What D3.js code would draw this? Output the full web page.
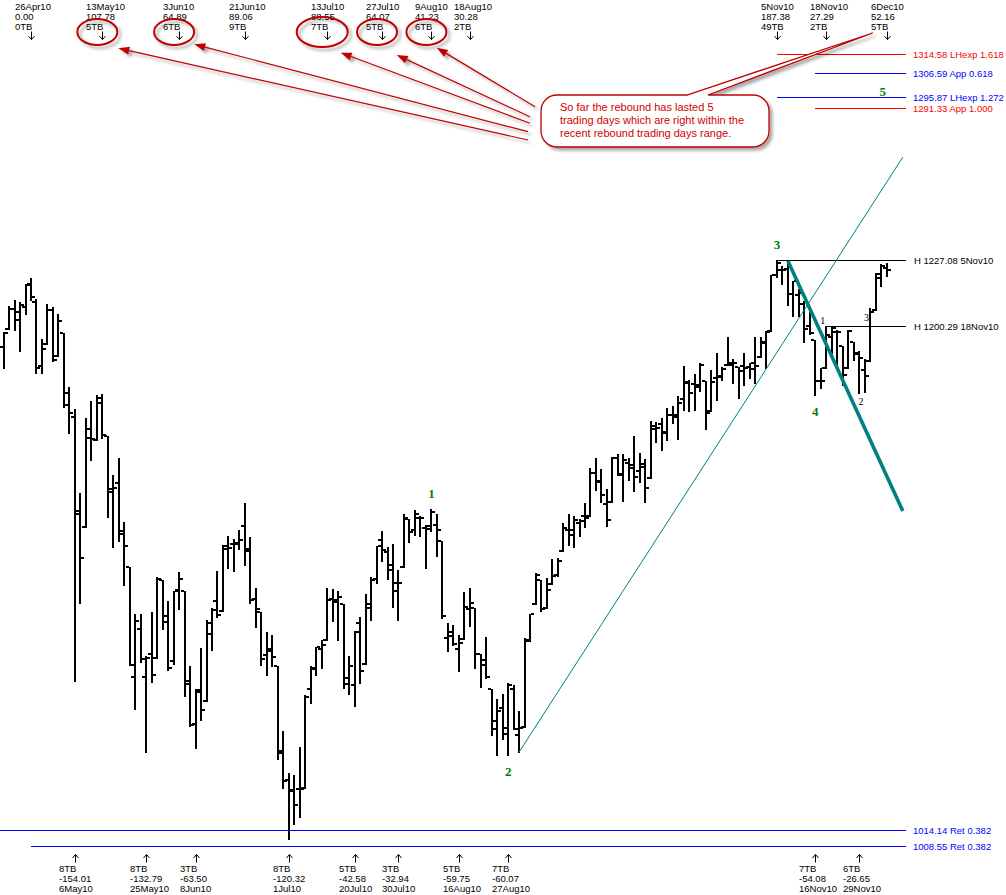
<!DOCTYPE html>
<html><head><meta charset="utf-8">
<script src="https://cdn.jsdelivr.net/npm/d3@7"></script>
<style>html,body{margin:0;padding:0;background:#fff;overflow:hidden}svg{display:block}</style>
</head><body>
<script>
// ---------------- DATA ----------------
const dates = ["19Apr10","20Apr10","21Apr10","22Apr10","23Apr10","26Apr10","27Apr10","28Apr10","29Apr10","30Apr10",
"3May10","4May10","5May10","6May10","7May10","10May10","11May10","12May10","13May10","14May10","17May10","18May10","19May10","20May10","21May10","24May10","25May10","26May10","27May10","28May10",
"1Jun10","2Jun10","3Jun10","4Jun10","7Jun10","8Jun10","9Jun10","10Jun10","11Jun10","14Jun10","15Jun10","16Jun10","17Jun10","18Jun10","21Jun10","22Jun10","23Jun10","24Jun10","25Jun10","28Jun10","29Jun10","30Jun10",
"1Jul10","2Jul10","6Jul10","7Jul10","8Jul10","9Jul10","12Jul10","13Jul10","14Jul10","15Jul10","16Jul10","19Jul10","20Jul10","21Jul10","22Jul10","23Jul10","26Jul10","27Jul10","28Jul10","29Jul10","30Jul10",
"2Aug10","3Aug10","4Aug10","5Aug10","6Aug10","9Aug10","10Aug10","11Aug10","12Aug10","13Aug10","16Aug10","17Aug10","18Aug10","19Aug10","20Aug10","23Aug10","24Aug10","25Aug10","26Aug10","27Aug10","30Aug10","31Aug10",
"1Sep10","2Sep10","3Sep10","7Sep10","8Sep10","9Sep10","10Sep10","13Sep10","14Sep10","15Sep10","16Sep10","17Sep10","20Sep10","21Sep10","22Sep10","23Sep10","24Sep10","27Sep10","28Sep10","29Sep10","30Sep10",
"1Oct10","4Oct10","5Oct10","6Oct10","7Oct10","8Oct10","11Oct10","12Oct10","13Oct10","14Oct10","15Oct10","18Oct10","19Oct10","20Oct10","21Oct10","22Oct10","25Oct10","26Oct10","27Oct10","28Oct10","29Oct10",
"1Nov10","2Nov10","3Nov10","4Nov10","5Nov10","8Nov10","9Nov10","10Nov10","11Nov10","12Nov10","15Nov10","16Nov10","17Nov10","18Nov10","19Nov10","22Nov10","23Nov10","24Nov10","26Nov10","29Nov10","30Nov10",
"1Dec10","2Dec10","3Dec10","6Dec10"];

const open = [1192.06,1199.04,1207.16,1202.70,1207.87,1217.07,1209.92,1184.59,1193.30,1206.77,
1188.58,1197.50,1169.24,1164.38,1127.04,1122.27,1156.39,1155.43,1170.04,1157.19,1136.52,1138.78,1119.57,1107.34,1067.26,1084.78,1067.42,1075.51,1074.27,1102.59,
1087.30,1073.01,1098.82,1098.43,1065.84,1050.81,1062.75,1058.77,1082.65,1095.00,1091.21,1114.02,1115.98,1116.16,1122.79,1113.90,1095.57,1090.93,1075.10,1077.50,1071.10,1040.56,
1031.10,1027.65,1028.09,1028.54,1062.92,1070.50,1077.23,1080.65,1095.61,1094.46,1093.85,1066.85,1064.53,1086.67,1072.14,1092.17,1102.89,1117.36,1112.84,1108.07,1098.44,
1107.53,1125.34,1121.06,1125.78,1122.07,1122.80,1122.92,1116.89,1081.48,1082.22,1077.49,1081.16,1092.08,1092.44,1075.63,1073.36,1063.20,1048.98,1056.28,1049.27,1062.90,1046.88,
1049.72,1080.66,1093.61,1102.60,1092.36,1101.15,1104.57,1113.38,1121.16,1119.43,1123.89,1126.39,1126.57,1142.82,1139.49,1131.10,1131.69,1148.64,1142.31,1146.75,1145.97,
1143.49,1144.96,1140.68,1159.81,1161.57,1158.36,1165.32,1164.28,1171.32,1177.82,1177.47,1176.83,1178.64,1166.74,1179.82,1180.52,1184.74,1184.88,1183.84,1184.47,1183.87,
1185.71,1187.86,1193.79,1198.34,1221.20,1223.24,1223.59,1213.14,1213.04,1209.07,1200.44,1194.79,1178.33,1183.75,1196.12,1198.07,1192.51,1183.70,1194.16,1189.08,1182.96,
1186.60,1206.81,1219.93,1223.87];

const high = [1197.87,1208.58,1210.99,1210.00,1217.28,1219.80,1211.38,1195.05,1209.36,1207.99,
1205.13,1197.50,1175.95,1167.58,1135.13,1163.85,1170.48,1172.87,1173.57,1157.19,1141.88,1148.66,1124.27,1107.34,1090.16,1089.95,1074.75,1090.75,1103.52,1102.59,
1094.77,1098.56,1105.67,1098.43,1071.36,1063.15,1077.74,1087.85,1092.25,1105.91,1115.59,1118.74,1117.72,1121.01,1131.23,1118.50,1099.64,1090.93,1083.56,1082.60,1071.10,1048.08,
1033.58,1032.95,1042.50,1060.89,1071.25,1078.16,1080.78,1099.46,1099.08,1098.66,1093.85,1074.70,1083.94,1088.96,1097.50,1103.73,1115.20,1120.95,1114.66,1115.90,1106.44,
1127.30,1125.44,1128.75,1126.56,1123.06,1129.24,1127.16,1116.89,1086.72,1086.25,1082.62,1098.00,1099.77,1092.44,1075.63,1081.58,1063.20,1059.38,1061.45,1065.21,1064.40,1055.14,
1081.30,1090.10,1105.10,1102.60,1103.26,1110.27,1110.88,1123.87,1127.36,1126.46,1125.44,1131.47,1144.86,1148.59,1144.38,1136.77,1148.90,1149.92,1150.00,1148.63,1157.16,
1150.30,1148.16,1162.76,1162.33,1163.87,1167.73,1168.68,1172.58,1184.38,1178.89,1181.20,1185.53,1178.64,1182.94,1189.43,1183.93,1196.14,1187.11,1183.84,1189.53,1185.46,
1195.81,1195.88,1198.30,1221.25,1227.08,1224.57,1226.84,1218.75,1215.45,1210.50,1207.43,1194.79,1183.56,1200.29,1199.97,1198.94,1192.51,1198.62,1194.16,1190.34,1187.40,
1207.61,1221.89,1225.57,1225.80];

const low = [1183.68,1199.04,1198.85,1190.20,1205.10,1211.07,1181.62,1181.81,1193.30,1186.32,
1188.58,1168.12,1158.15,1065.79,1094.15,1122.27,1147.71,1155.43,1156.14,1126.14,1114.96,1117.20,1100.66,1071.58,1055.90,1072.70,1040.78,1065.59,1074.27,1084.78,
1069.89,1072.03,1091.81,1060.50,1049.86,1042.17,1052.25,1058.77,1077.12,1089.03,1091.21,1107.13,1105.87,1113.93,1108.24,1094.18,1085.31,1071.60,1067.89,1071.45,1038.38,1028.33,
1010.91,1015.93,1018.35,1028.54,1058.24,1068.10,1070.45,1080.65,1087.68,1080.53,1063.32,1061.11,1056.88,1065.25,1072.14,1087.88,1101.30,1109.78,1103.11,1092.82,1088.01,
1107.53,1116.76,1119.46,1118.81,1107.17,1120.91,1111.58,1088.55,1076.69,1079.00,1069.49,1081.16,1085.76,1070.66,1063.91,1067.08,1046.68,1039.83,1045.40,1039.70,1048.79,1040.88,
1049.72,1080.39,1093.61,1091.15,1092.36,1101.15,1103.92,1113.38,1115.58,1114.63,1118.88,1122.43,1126.57,1136.22,1131.58,1122.79,1131.69,1142.00,1132.09,1140.26,1136.08,
1139.42,1131.87,1140.68,1154.85,1151.41,1155.58,1162.02,1155.71,1167.00,1166.71,1167.12,1174.55,1159.71,1166.74,1171.17,1178.99,1184.74,1177.72,1171.70,1177.10,1179.70,
1177.65,1187.86,1183.56,1198.34,1220.29,1217.55,1208.94,1204.33,1204.49,1194.08,1197.15,1173.00,1175.82,1183.75,1189.44,1184.58,1176.91,1183.70,1186.93,1173.64,1174.14,
1186.60,1206.81,1216.60,1220.67];

const close = [1197.52,1207.17,1205.94,1208.67,1217.28,1212.05,1183.71,1191.36,1206.78,1186.69,
1202.26,1173.60,1165.87,1128.15,1110.88,1159.73,1155.79,1171.67,1157.44,1135.68,1136.94,1120.80,1115.05,1071.59,1087.69,1073.65,1074.03,1067.95,1103.06,1089.41,
1070.71,1098.38,1102.83,1064.88,1050.47,1062.00,1055.69,1086.84,1091.60,1089.63,1115.23,1114.61,1116.04,1117.51,1113.20,1095.31,1092.04,1073.69,1076.76,1074.57,1041.24,1030.71,
1027.37,1022.58,1028.06,1060.27,1070.25,1077.96,1078.75,1095.34,1095.17,1096.48,1064.88,1071.25,1083.48,1069.59,1093.67,1102.66,1115.01,1113.84,1106.13,1101.53,1101.60,
1125.86,1120.46,1127.24,1125.81,1121.64,1127.79,1121.06,1089.47,1083.61,1079.25,1079.38,1092.54,1094.16,1075.63,1071.69,1067.36,1051.87,1055.33,1047.22,1064.59,1048.92,1049.33,
1080.29,1090.10,1104.51,1091.84,1098.87,1104.18,1109.55,1121.90,1121.10,1125.07,1124.66,1125.59,1142.71,1139.78,1134.28,1124.83,1148.67,1142.16,1147.70,1144.73,1141.20,
1146.24,1137.03,1160.75,1159.97,1158.06,1165.15,1165.32,1169.77,1178.10,1173.81,1176.19,1184.71,1165.90,1178.17,1180.26,1183.08,1185.62,1185.64,1182.45,1183.78,1183.26,
1184.38,1193.57,1197.96,1221.06,1225.85,1223.25,1213.40,1218.71,1213.54,1199.21,1197.75,1178.34,1178.59,1196.69,1199.73,1197.84,1180.73,1198.35,1189.40,1187.76,1180.55,
1206.07,1221.53,1224.71,1223.12];

// swing high labels (top)
const swingHighDates   = ["26Apr10","13May10","3Jun10","21Jun10","13Jul10","27Jul10","9Aug10","18Aug10","5Nov10","18Nov10","6Dec10"];
const swingHighChanges = ["0.00","107.78","64.89","89.06","88.55","64.07","41.23","30.28","187.38","27.29","52.16"];
const swingHighBars    = ["0TB","5TB","6TB","9TB","7TB","5TB","6TB","2TB","49TB","2TB","5TB"];
// swing low labels (bottom)
const swingLowDates   = ["6May10","25May10","8Jun10","1Jul10","20Jul10","30Jul10","16Aug10","27Aug10","16Nov10","29Nov10"];
const swingLowChanges = ["-154.01","-132.79","-63.50","-120.32","-42.58","-32.94","-59.75","-60.07","-54.08","-26.65"];
const swingLowBars    = ["8TB","8TB","3TB","8TB","5TB","3TB","5TB","7TB","7TB","6TB"];

// projection / retracement levels
const levelValues = [1314.58,1306.59,1295.87,1291.33,1014.14,1008.55];
const levelNames  = ["LHexp 1.618","App 0.618","LHexp 1.272","App 1.000","Ret 0.382","Ret 0.382"];
const levelStarts = ["5Nov10","16Nov10","5Nov10","16Nov10",null,"26Apr10"];
const levelKinds  = ["exp","app","exp","app","ret","ret"];

// swing high reference lines
const highLineValues = [1227.08,1200.29];
const highLineDates  = ["5Nov10","18Nov10"];

// trend lines: start (date, price) -> end (bar position, price)
const trendStartDates  = ["31Aug10","9Nov10"];
const trendStartPrices = [1040.88,1226.84];
const trendEndBars     = [163.95,163.95];
const trendEndPrices   = [1270.2,1128.3];

// wave labels
const waveNames  = ["1","2","3","4","5"];
const waveDates  = ["9Aug10","27Aug10","5Nov10","16Nov10","3Dec10"];
const waveAnchor = ["high","low","high","low","level"];
const subWaveNames  = ["1","2","3"];
const subWaveDates  = ["17Nov10","29Nov10","30Nov10"];
const subWavePrices = [1201.3,1169.2,1202.6];

// callout
const calloutLines = ["So far the rebound has lasted 5","trading days which are right within the","recent rebound trading days range."];
const circledDates = ["13May10","3Jun10","13Jul10","27Jul10","9Aug10"];

// ---------------- DRAW ----------------
const W = 1006, H = 895;
const svg = d3.select("body").append("svg").attr("width", W).attr("height", H);
const defs = svg.append("defs");
defs.append("filter").attr("id","sh").attr("filterUnits","userSpaceOnUse")
  .attr("x",0).attr("y",0).attr("width",W).attr("height",H)
  .append("feDropShadow").attr("dx",3).attr("dy",3).attr("stdDeviation",1.6)
  .attr("flood-color","#000").attr("flood-opacity",0.33);

const xs = d3.scaleLinear().domain([0, dates.length - 1]).range([3.575, 886.66]);
const ys = d3.scaleLog().domain([1010.91, 1227.08]).range([839.3, 260.3]);
const ix = d => dates.indexOf(d);
const X = d => xs(ix(d));
const lineEndX = 905.5;
const sans = "'Liberation Sans', Arial, sans-serif";
const serif = "'Liberation Serif', 'Times New Roman', serif";
const levelColor = {exp:"#ff0000", app:null, ret:"#0000ff"};
const levelColors = ["#ff0000","#0000ff","#0000ff","#ff0000","#0000ff","#0000ff"];

// horizontal levels
const lg = svg.append("g").attr("shape-rendering","crispEdges");
levelValues.forEach((v,j) => {
  const y = Math.round(ys(v)) + 0.5;
  const x0 = levelStarts[j] ? Math.round(X(levelStarts[j])) : 0;
  lg.append("line").attr("x1",x0).attr("x2",lineEndX).attr("y1",y).attr("y2",y)
    .attr("stroke",levelColors[j]).attr("stroke-width",1);
  svg.append("text").attr("x",913).attr("y",y+3.5).attr("font-family",sans).attr("font-size",9.5)
    .attr("fill",levelColors[j]).text(v.toFixed(2) + " " + levelNames[j]);
});
highLineValues.forEach((v,j) => {
  const y = Math.round(ys(v)) + 0.5;
  lg.append("line").attr("x1",Math.round(X(highLineDates[j]))).attr("x2",lineEndX).attr("y1",y).attr("y2",y)
    .attr("stroke","#000").attr("stroke-width",1);
  svg.append("text").attr("x",914).attr("y",y+3.5).attr("font-family",sans).attr("font-size",9.5)
    .attr("fill","#000").text("H " + v.toFixed(2) + " " + highLineDates[j]);
});

// OHLC bars
const bars = dates.map((d,i) => ({i, o:open[i], h:high[i], l:low[i], c:close[i]}));
const bg = svg.append("g").attr("shape-rendering","crispEdges").attr("fill","#000");
const px = b => Math.round(xs(b.i));
bg.selectAll("rect.v").data(bars).join("rect").attr("class","v")
  .attr("x", b => px(b) - 1).attr("y", b => Math.round(ys(b.h)))
  .attr("width", 2).attr("height", b => Math.max(2, Math.round(ys(b.l)) - Math.round(ys(b.h)) + 1));
bg.selectAll("rect.o").data(bars).join("rect").attr("class","o")
  .attr("x", b => px(b) - 4).attr("y", b => Math.round(ys(b.o)) - 1).attr("width", 3).attr("height", 2);
bg.selectAll("rect.c").data(bars).join("rect").attr("class","c")
  .attr("x", b => px(b) + 1).attr("y", b => Math.round(ys(b.c)) - 1).attr("width", 3).attr("height", 2);

// trend lines
const trendWidths = [1, 3.6];
trendStartDates.forEach((d,j) => {
  svg.append("line").attr("x1",X(d)).attr("y1",ys(trendStartPrices[j]))
    .attr("x2",xs(trendEndBars[j])).attr("y2",ys(trendEndPrices[j]))
    .attr("stroke","#008080").attr("stroke-width",trendWidths[j]);
});

// swing labels
const tg = svg.append("g").attr("font-family",sans).attr("font-size",9.5).attr("fill","#000");
swingHighDates.forEach((d,j) => {
  const x = Math.round(X(d));
  [d, swingHighChanges[j], swingHighBars[j]].forEach((s,m) =>
    tg.append("text").attr("x",x-16).attr("y",9.7 + 10*m).text(s));
  svg.append("path").attr("d",`M${x+0.5},31.5V39.5M${x-2.5},36.2L${x+0.5},39.5L${x+3.5},36.2`)
    .attr("stroke","#000").attr("fill","none").attr("stroke-width",1);
});
swingLowDates.forEach((d,j) => {
  const x = Math.round(X(d));
  [swingLowBars[j], swingLowChanges[j], d].forEach((s,m) =>
    tg.append("text").attr("x",x-16).attr("y",872 + 10*m).text(s));
  svg.append("path").attr("d",`M${x+0.5},862.5V854.5M${x-2.5},858L${x+0.5},854.5L${x+3.5},858`)
    .attr("stroke","#000").attr("fill","none").attr("stroke-width",1);
});

// wave labels
waveNames.forEach((n,j) => {
  const k = ix(waveDates[j]);
  let y;
  if (waveAnchor[j] === "high") y = ys(high[k]) - 11;
  else if (waveAnchor[j] === "low") y = ys(low[k]) + 21;
  else y = ys(levelValues[2]) - 1;
  svg.append("text").attr("x",xs(k) + (waveAnchor[j]==="level"?1.5:0)).attr("y",y).attr("text-anchor","middle")
    .attr("font-family",serif).attr("font-weight","bold").attr("font-size",13)
    .attr("fill","#008000").text(n);
});
subWaveNames.forEach((n,j) => {
  svg.append("text").attr("x",X(subWaveDates[j]) + 1.8).attr("y",ys(subWavePrices[j]))
    .attr("text-anchor","middle").attr("font-family",serif).attr("font-size",10)
    .attr("fill","#000").text(n);
});

// callout: ellipses, pointers, box
const red = "#c00000";
const ag = svg.append("g").attr("filter","url(#sh)");
const ellR = {"13Jul10":[25.5,15]};
const tipOff = [[21,16.3],[20.2,12.3],[18.5,20.7],[19.7,23],[10.3,15.7]];
const startPts = [[528,140],[528,131.7],[530,123.3],[530,116.7],[535,106.7]];
circledDates.forEach((d,j) => {
  const cx = X(d) - 5, cy = 32;
  const r = ellR[d] || [20,13];
  ag.append("ellipse").attr("cx",cx).attr("cy",cy).attr("rx",r[0]).attr("ry",r[1])
    .attr("fill","none").attr("stroke",red).attr("stroke-width",2);
  const tx = cx + tipOff[j][0], ty = cy + tipOff[j][1];
  const [sx, sy] = startPts[j];
  const dx = tx - sx, dy = ty - sy, len = Math.hypot(dx,dy);
  const ux = dx/len, uy = dy/len, nx = -uy, ny = ux;
  const bx = tx - 11*ux, by = ty - 11*uy;
  ag.append("line").attr("x1",sx).attr("y1",sy).attr("x2",bx).attr("y2",by)
    .attr("stroke",red).attr("stroke-width",1.2);
  ag.append("path").attr("d",`M${tx},${ty}L${bx+4*nx},${by+4*ny}L${bx-4*nx},${by-4*ny}Z`).attr("fill",red);
});
const tipX = X("6Dec10") - 14, tipY = 33;
const L = 541, T = 95, R = 769, B = 147, rr = 16;
ag.append("path").attr("d",
  `M${L+rr},${T}H687L${tipX},${tipY}L708,${T}H${R-rr}A${rr},${rr} 0 0 1 ${R},${T+rr}V${B-rr}A${rr},${rr} 0 0 1 ${R-rr},${B}H${L+rr}A${rr},${rr} 0 0 1 ${L},${B-rr}V${T+rr}A${rr},${rr} 0 0 1 ${L+rr},${T}Z`)
  .attr("fill","#fff").attr("stroke",red).attr("stroke-width",1.3);
calloutLines.forEach((s,m) => {
  svg.append("text").attr("x",560).attr("y",110.7 + 13.3*m).attr("font-family",sans).attr("font-size",11)
    .attr("fill","#d00000").text(s);
});
</script>
</body></html>
